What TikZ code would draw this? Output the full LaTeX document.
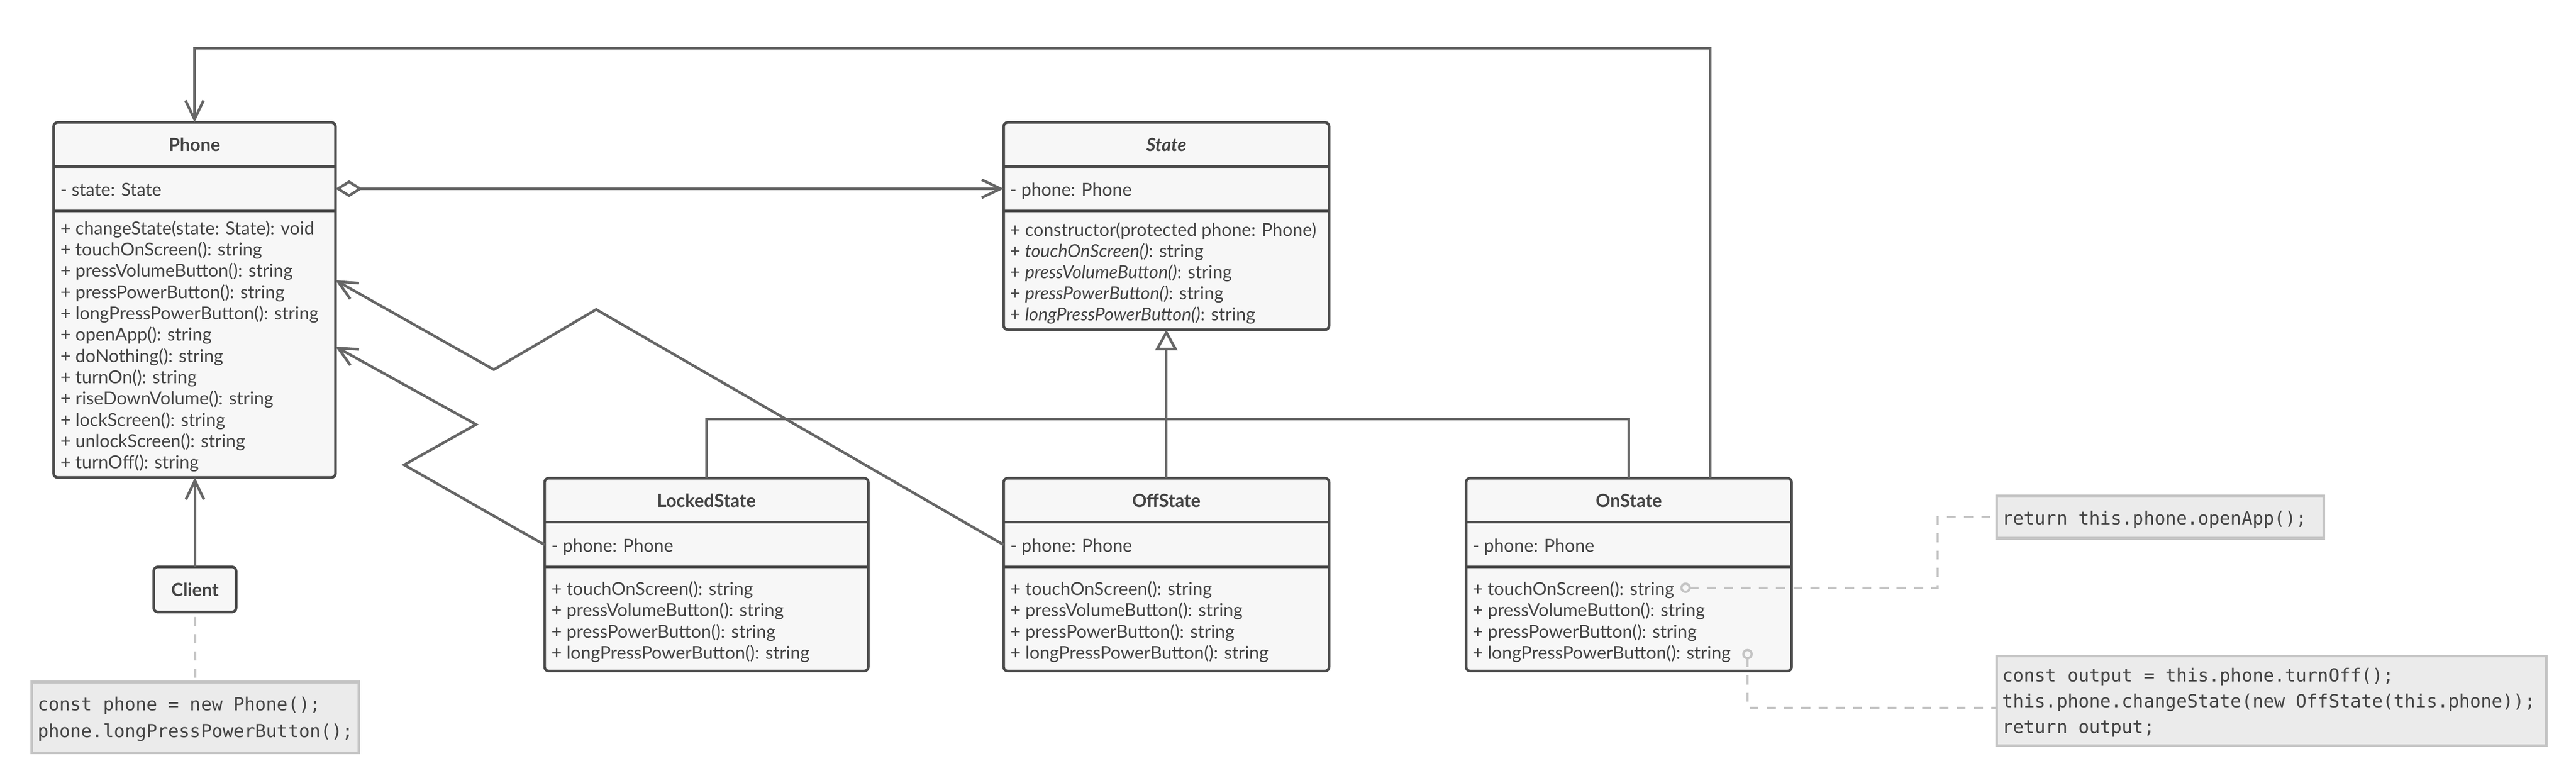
\documentclass[tikz,border=0pt]{standalone}
\usepackage{fontspec}
\setmainfont{Lato}
\setmonofont{DejaVu Sans Mono}
\usetikzlibrary{arrows.meta}
\definecolor{boxc}{HTML}{4A4A4A}
\definecolor{fillc}{HTML}{F7F7F7}
\definecolor{connc}{HTML}{666666}
\definecolor{textc}{HTML}{444444}
\definecolor{notefill}{HTML}{EBEBEB}
\definecolor{notec}{HTML}{C4C4C4}
\definecolor{dashc}{HTML}{C4C4C4}
\tikzset{
  cls/.style={draw=boxc, fill=fillc, line width=1.6pt, rounded corners=2.5pt, inner sep=0pt, outer sep=0pt},
  sepline/.style={draw=boxc, line width=1.6pt},
  txt/.style={anchor=west, inner sep=0pt, text=textc, font=\fontsize{10.9}{13}\selectfont, text height=0.75em, text depth=0.2em, yshift=-1.7pt},
  ttl/.style={inner sep=0pt, text=textc, font=\fontsize{11}{13}\selectfont\bfseries, text height=0.75em, text depth=0.2em, yshift=-1.5pt},
  codetxt/.style={anchor=west, inner sep=0pt, text=textc, font=\fontsize{11}{13}\selectfont\ttfamily, text height=0.75em, text depth=0.2em, yshift=-2pt},
  notebox/.style={draw=notec, fill=notefill, line width=1.6pt, inner sep=0pt, outer sep=0pt},
  conn/.style={draw=connc, line width=1.6pt},
  openarrow/.style={-{Straight Barb[length=11.5pt,width=11pt]}},
  dashl/.style={draw=dashc, line width=1.4pt, dash pattern=on 5.5pt off 5pt},
  pin/.style={circle, draw=dashc, fill=fillc, line width=1.4pt, minimum size=5pt, inner sep=0pt, outer sep=0pt}
}
\begin{document}
\begin{tikzpicture}[x=1pt,y=-1pt]
\useasboundingbox (0,0) rectangle (1568,476.6);

% ---------- class boxes ----------
\node[cls, minimum width=171.6pt, minimum height=216.2pt] (phone) at (118.4,182.6) {};
\node[cls, minimum width=198.1pt, minimum height=126.2pt] (state) at (709.95,137.6) {};
\node[cls, minimum width=197pt, minimum height=117.4pt] (locked) at (430,349.8) {};
\node[cls, minimum width=198.1pt, minimum height=117.4pt] (offstate) at (709.95,349.8) {};
\node[cls, minimum width=198.1pt, minimum height=117.4pt] (onstate) at (991.45,349.8) {};
\node[cls, minimum width=50.1pt, minimum height=27.5pt] (client) at (118.65,358.85) {};

% separators
\foreach \b in {phone,state,locked,offstate,onstate}{
  \draw[sepline] ([yshift=-26.8pt]\b.north west) -- ([yshift=-26.8pt]\b.north east);
  \draw[sepline] ([yshift=-54pt]\b.north west) -- ([yshift=-54pt]\b.north east);
}

% ---------- titles ----------
\node[ttl] (phoneT) at (118.4,87.9) {Phone};
\node[ttl, font=\fontsize{11}{13}\selectfont\bfseries\itshape] (stateT) at (709.95,87.9) {State};
\node[ttl] (lockedT) at (430,304.6) {LockedState};
\node[ttl] (offT) at (709.95,304.6) {OffState};
\node[ttl] (onT) at (991.45,304.6) {OnState};
\node[ttl] (clientT) at (118.65,358.85) {Client};

% ---------- attributes ----------
\node[txt] (phoneA) at (36.6,114.9) {- state: State};
\node[txt] (stateA) at (614.6,114.9) {- phone: Phone};
\node[txt] (lockedA) at (335.5,331.7) {- phone: Phone};
\node[txt] (offA) at (614.8,331.7) {- phone: Phone};
\node[txt] (onA) at (896.2,331.7) {- phone: Phone};

% ---------- methods ----------
\foreach \t [count=\i] in {{+ changeState(state: State): void},{+ touchOnScreen(): string},{+ pressVolumeButton(): string},{+ pressPowerButton(): string},{+ longPressPowerButton(): string},{+ openApp(): string},{+ doNothing(): string},{+ turnOn(): string},{+ riseDownVolume(): string},{+ lockScreen(): string},{+ unlockScreen(): string},{+ turnOff(): string}}
  {\node[txt] (pm\i) at (36.6,{125.34+12.96*\i}) {\t};}

\foreach \t [count=\i] in {{+ constructor(protected phone: Phone)},{+ \textit{touchOnScreen()}: string},{+ \textit{pressVolumeButton()}: string},{+ \textit{pressPowerButton()}: string},{+ \textit{longPressPowerButton()}: string}}
  {\node[txt] (sm\i) at (614.6,{126.3+12.9*\i}) {\t};}

\foreach \b/\x in {lk/335.5,of/614.8,on/896.2}{
  \foreach \t [count=\i] in {{+ touchOnScreen(): string},{+ pressVolumeButton(): string},{+ pressPowerButton(): string},{+ longPressPowerButton(): string}}
    {\node[txt] (\b m\i) at (\x,{345.0+12.96*\i}) {\t};}
}

% ---------- notes ----------
\node[notebox, minimum width=199.3pt, minimum height=43.1pt] (cnote) at (118.85,436.75) {};
\node[codetxt] (cn1) at (22.8,427.9) {const phone = new Phone();};
\node[codetxt] (cn2) at (22.8,444.2) {phone.longPressPowerButton();};

\node[notebox, minimum width=199.1pt, minimum height=25.7pt] (note1) at (1314.85,314.85) {};
\node[codetxt] (n1a) at (1218.6,314.6) {return this.phone.openApp();};

\node[notebox, minimum width=334.7pt, minimum height=54.6pt] (note2) at (1382.65,426.7) {};
\node[codetxt] (n2a) at (1218.6,410.2) {const output = this.phone.turnOff();};
\node[codetxt] (n2b) at (1218.6,425.9) {this.phone.changeState(new OffState(this.phone));};
\node[codetxt] (n2c) at (1218.6,441.5) {return output;};

% ---------- connectors ----------
% client -> phone
\draw[conn, openarrow] (client.north) -- (client.north |- phone.south);
% client note
\draw[dashl] ([yshift=-3pt]client.south) -- (cnote.north);
% aggregation
\draw[conn, {Diamond[open, fill=white, length=16.5pt, width=10.3pt]}-{Straight Barb[length=11.5pt,width=11pt]}]
  ([yshift=-40.4pt]phone.north east) -- ([yshift=-40.4pt]state.north west);
% onstate -> phone (top loop)
\draw[conn, openarrow] ([xshift=49.65pt]onstate.north) -- ++(0,-261.8) -| (phone.north);
% generalization
\coordinate (gen) at (709.95,255);
\draw[conn] (locked.north) |- (gen) -| (onstate.north);
\draw[conn, -{Triangle[open, fill=white, length=12.6pt, width=13.5pt]}] (offstate.north) -- (state.south);
% lockedstate -> phone
\draw[conn, openarrow] ([yshift=-40.6pt]locked.north west) -- (246.0,283.0) -- (289.8,258.4) -- ([yshift=-136.5pt]phone.north east);
% offstate -> phone
\draw[conn, openarrow] ([yshift=-40.6pt]offstate.north west) -- (362.9,188.4) -- (300.6,225.0) -- ([yshift=-96.1pt]phone.north east);

% note pins on OnState
\node[pin] (tpin) at (1026,357.8) {};
\node[pin] (lpin) at (1063.7,398.2) {};
\draw[dashl] (tpin.east) -- ++(150.9,0) |- (note1.west);
\draw[dashl] (lpin.south) |- ([yshift=-4.3pt]note2.west);
\end{tikzpicture}
\end{document}
